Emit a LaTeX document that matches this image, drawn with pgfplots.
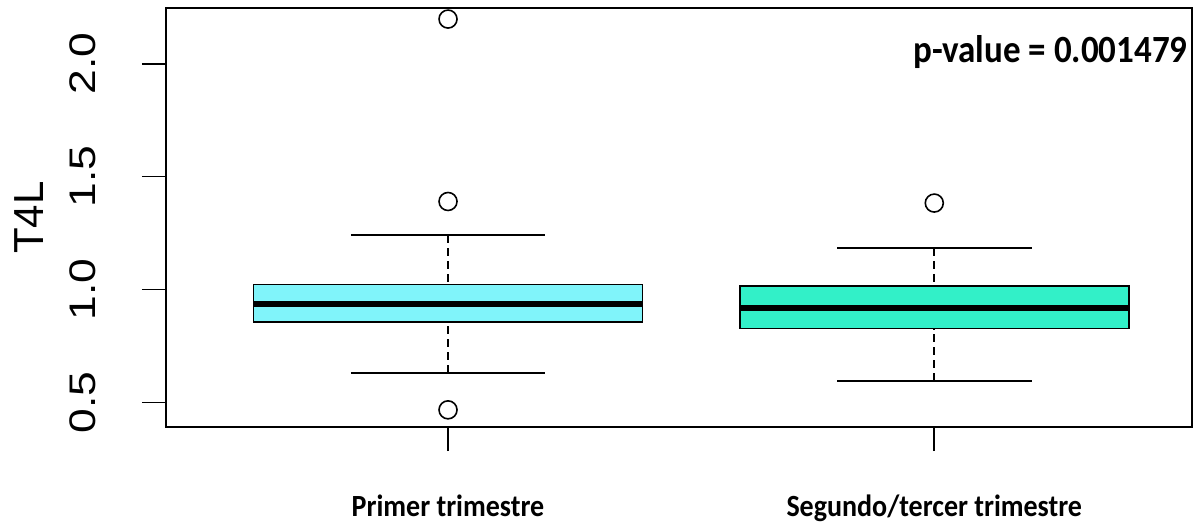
\documentclass[border=0pt]{standalone}
\usepackage{fontspec}
\setmainfont{Liberation Sans}
\newfontfamily\calibri{Carlito}
\usepackage{graphicx}
\usepackage{pgfplots}
\pgfplotsset{compat=1.18}
\usepgfplotslibrary{statistics}
\definecolor{boxA}{RGB}{128,244,250}
\definecolor{boxB}{RGB}{50,240,200}
\pgfplotsset{
  boxplot/draw/lower whisker/.code={%
    \draw[black, line width=0.8pt, dash pattern=on 4pt off 2.5pt]
      (boxplot cs:\pgfplotsboxplotvalue{lower whisker}) -- (boxplot cs:\pgfplotsboxplotvalue{lower quartile});
    \draw[black, line width=0.9pt]
      (boxplot whisker cs:\pgfplotsboxplotvalue{lower whisker},0) -- (boxplot whisker cs:\pgfplotsboxplotvalue{lower whisker},1);
  },
  boxplot/draw/upper whisker/.code={%
    \draw[black, line width=0.8pt, dash pattern=on 4pt off 2.5pt]
      (boxplot cs:\pgfplotsboxplotvalue{upper whisker}) -- (boxplot cs:\pgfplotsboxplotvalue{upper quartile});
    \draw[black, line width=0.9pt]
      (boxplot whisker cs:\pgfplotsboxplotvalue{upper whisker},0) -- (boxplot whisker cs:\pgfplotsboxplotvalue{upper whisker},1);
  },
}
\newcommand{\yl}[1]{\scalebox{1.2}[1]{#1}}
\newcommand{\xl}[1]{\scalebox{1}[1.1]{#1}}
\begin{document}
\begin{tikzpicture}
\useasboundingbox (-83pt,-47pt) rectangle (515.5pt,213.5pt);
\begin{axis}[
  at={(0,0)}, anchor=south west,
  scale only axis,
  width=513pt, height=209.5pt,
  xmin=0.42, xmax=2.53,
  ymin=0.391, ymax=2.247,
  axis line style={line width=0.9pt},
  tick pos=left, tick align=outside, major tick length=12pt,
  tick style={black, line width=0.8pt},
  xtick={1,2},
  xticklabels={\xl{Primer trimestre}, \xl{Segundo/tercer trimestre}},
  xticklabel style={font=\calibri\bfseries\fontsize{14}{16}\selectfont, anchor=base, inner sep=0pt, yshift=-32.5pt},
  ytick={0.5,1.0,1.5,2.0},
  yticklabels={\yl{0.5},\yl{1.0},\yl{1.5},\yl{2.0}},
  yticklabel style={font=\fontsize{18.5}{20}\selectfont, rotate=90, anchor=base, inner sep=0pt, yshift=23pt},
  /pgf/number format/assume math mode=true,
  every axis y label/.style={at={(axis description cs:-0.119,0.5)}, rotate=90, anchor=base, inner sep=0pt, font=\fontsize{21}{23}\selectfont},
  ylabel={T4L},
  boxplot/draw direction=y,
  boxplot/every box/.style={draw=black, line width=0.75pt},
  boxplot/every median/.style={draw=black, line width=3pt},
  clip=false,
]
\addplot[black, mark=o, mark size=4.5pt, mark options={line width=0.8pt, fill=none},
  boxplot/every box/.append style={fill=boxA},
  boxplot prepared={draw position=1, lower whisker=0.632, lower quartile=0.856,
    median=0.938, upper quartile=1.022, upper whisker=1.240,
    box extend=0.8, whisker extend=0.4}]
  table[row sep=\\, y index=0] {2.198\\1.39\\0.467\\};
\addplot[black, mark=o, mark size=4.5pt, mark options={line width=0.8pt, fill=none},
  boxplot/every box/.append style={fill=boxB},
  boxplot prepared={draw position=2, lower whisker=0.596, lower quartile=0.827,
    median=0.917, upper quartile=1.015, upper whisker=1.185,
    box extend=0.8, whisker extend=0.4}]
  table[row sep=\\, y index=0] {1.383\\};
\node[anchor=base east, inner sep=0pt, font=\calibri\bfseries\fontsize{17.5}{19}\selectfont]
  at (rel axis cs:1,0.8695) [xshift=-2pt] {\scalebox{1}[1.1]{p-value = 0.001479}};
\end{axis}
\end{tikzpicture}
\end{document}
